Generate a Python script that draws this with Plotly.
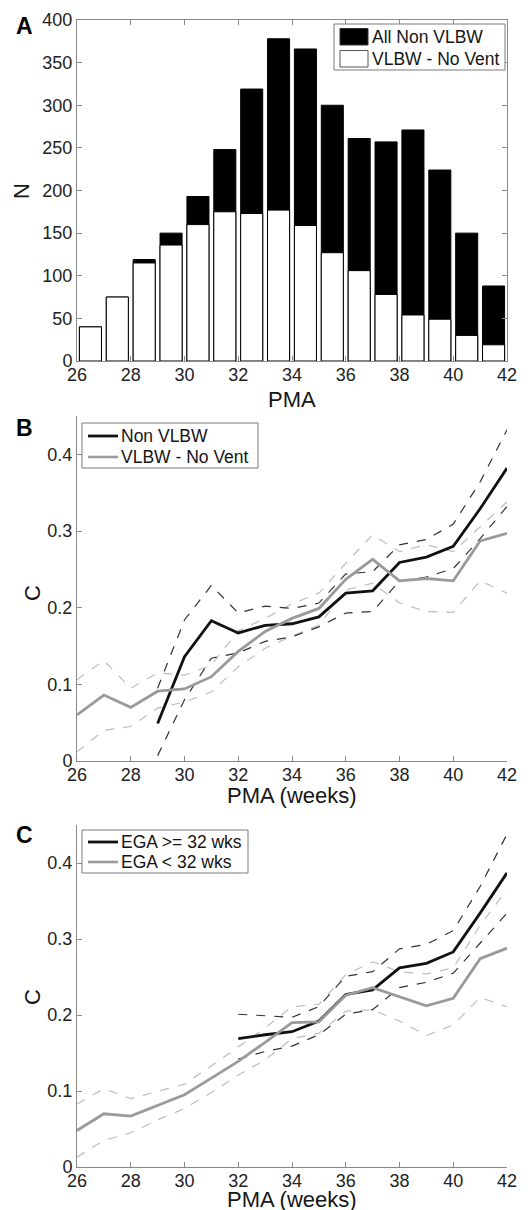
import plotly.graph_objects as go

# ---------------- data ----------------
# Panel A: counts per PMA bin
pma_bins = [26.5, 27.5, 28.5, 29.5, 30.5, 31.5, 32.5, 33.5, 34.5, 35.5, 36.5, 37.5, 38.5, 39.5, 40.5, 41.5]
n_all_non_vlbw = [40, 75, 119, 150, 193, 248, 319, 378, 366, 300, 261, 257, 271, 224, 150, 88]
n_vlbw_no_vent = [40, 75, 115, 136, 160, 175, 173, 177, 159, 127, 106, 78, 54, 49, 30, 19]

# Panel B
pma_all = [26, 27, 28, 29, 30, 31, 32, 33, 34, 35, 36, 37, 38, 39, 40, 41, 42]
pma_from29 = [29, 30, 31, 32, 33, 34, 35, 36, 37, 38, 39, 40, 41, 42]
nonvlbw_mean = [0.049, 0.136, 0.183, 0.167, 0.177, 0.179, 0.188, 0.219, 0.222, 0.259, 0.266, 0.280, 0.329, 0.382]
nonvlbw_hi = [0.095, 0.184, 0.229, 0.193, 0.202, 0.199, 0.206, 0.244, 0.247, 0.282, 0.289, 0.309, 0.364, 0.432]
nonvlbw_lo = [0.007, 0.080, 0.134, 0.141, 0.156, 0.162, 0.175, 0.193, 0.195, 0.235, 0.240, 0.251, 0.290, 0.332]
vlbw_mean = [0.060, 0.086, 0.070, 0.091, 0.094, 0.110, 0.143, 0.169, 0.186, 0.199, 0.237, 0.263, 0.235, 0.238, 0.235, 0.287, 0.297]
vlbw_hi = [0.106, 0.131, 0.095, 0.115, 0.112, 0.125, 0.170, 0.186, 0.205, 0.219, 0.258, 0.295, 0.273, 0.282, 0.273, 0.305, 0.338]
vlbw_lo = [0.012, 0.040, 0.045, 0.069, 0.077, 0.090, 0.123, 0.147, 0.163, 0.177, 0.223, 0.232, 0.206, 0.195, 0.194, 0.235, 0.219]

# Panel C
pma_from32 = [32, 33, 34, 35, 36, 37, 38, 39, 40, 41, 42]
ega_ge32_mean = [0.169, 0.174, 0.178, 0.192, 0.227, 0.233, 0.262, 0.268, 0.283, 0.334, 0.387]
ega_ge32_hi = [0.201, 0.199, 0.197, 0.211, 0.251, 0.257, 0.287, 0.293, 0.311, 0.369, 0.438]
ega_ge32_lo = [0.142, 0.152, 0.159, 0.174, 0.201, 0.207, 0.236, 0.243, 0.255, 0.295, 0.334]
ega_lt32_mean = [0.048, 0.070, 0.067, 0.081, 0.095, 0.117, 0.139, 0.164, 0.190, 0.191, 0.226, 0.236, 0.224, 0.212, 0.222, 0.274, 0.288]
ega_lt32_hi = [0.083, 0.103, 0.090, 0.099, 0.109, 0.133, 0.158, 0.183, 0.211, 0.214, 0.253, 0.270, 0.257, 0.254, 0.262, 0.318, 0.365]
ega_lt32_lo = [0.013, 0.035, 0.045, 0.062, 0.077, 0.098, 0.121, 0.141, 0.169, 0.176, 0.205, 0.207, 0.192, 0.173, 0.187, 0.223, 0.211]

x_ticks = [26, 28, 30, 32, 34, 36, 38, 40, 42]
n_ticks = [0, 50, 100, 150, 200, 250, 300, 350, 400]
c_ticks = [0, 0.1, 0.2, 0.3, 0.4]
c_tick_text = ["0", "0.1", "0.2", "0.3", "0.4"]

legend_a_labels = ["All Non VLBW", "VLBW - No Vent"]
legend_b_labels = ["Non VLBW", "VLBW - No Vent"]
legend_c_labels = ["EGA >= 32 wks", "EGA < 32 wks"]

# ---------------- styling ----------------
W, H = 531, 1210
FONT = "Liberation Sans, Arial, Helvetica, sans-serif"
AXC = "#8a8a8a"
BLACK = "#111111"
GRAY = "#9a9a9a"
DARKDASH = "#333333"
LIGHTDASH = "#bdbdbd"
TXT = "#151515"


def fx(px):
    return px / W


def fy(py):
    return 1 - py / H


fig = go.Figure()

# Panel A
fig.add_trace(go.Bar(x=pma_bins, y=n_all_non_vlbw, width=0.82, name=legend_a_labels[0],
                     marker=dict(color="black", line=dict(color="black", width=1)),
                     xaxis="x", yaxis="y", showlegend=False))
fig.add_trace(go.Bar(x=pma_bins, y=n_vlbw_no_vent, width=0.82, name=legend_a_labels[1],
                     marker=dict(color="white", line=dict(color="black", width=1)),
                     xaxis="x", yaxis="y", showlegend=False))


def line(x, y, color, width, dash, name=None, ax="2"):
    return go.Scatter(x=x, y=y, mode="lines", name=name, showlegend=False,
                      line=dict(color=color, width=width, dash=dash),
                      xaxis="x" + ax, yaxis="y" + ax)


# Panel B
fig.add_trace(line(pma_all, vlbw_hi, LIGHTDASH, 1.2, "dash"))
fig.add_trace(line(pma_all, vlbw_lo, LIGHTDASH, 1.2, "dash"))
fig.add_trace(line(pma_from29, nonvlbw_hi, DARKDASH, 1.2, "dash"))
fig.add_trace(line(pma_from29, nonvlbw_lo, DARKDASH, 1.2, "dash"))
fig.add_trace(line(pma_from29, nonvlbw_mean, BLACK, 2.8, "solid", legend_b_labels[0]))
fig.add_trace(line(pma_all, vlbw_mean, GRAY, 2.8, "solid", legend_b_labels[1]))

# Panel C
fig.add_trace(line(pma_all, ega_lt32_hi, LIGHTDASH, 1.2, "dash", ax="3"))
fig.add_trace(line(pma_all, ega_lt32_lo, LIGHTDASH, 1.2, "dash", ax="3"))
fig.add_trace(line(pma_from32, ega_ge32_hi, DARKDASH, 1.2, "dash", ax="3"))
fig.add_trace(line(pma_from32, ega_ge32_lo, DARKDASH, 1.2, "dash", ax="3"))
fig.add_trace(line(pma_from32, ega_ge32_mean, BLACK, 2.8, "solid", legend_c_labels[0], ax="3"))
fig.add_trace(line(pma_all, ega_lt32_mean, GRAY, 2.8, "solid", legend_c_labels[1], ax="3"))

tickfont = dict(family=FONT, size=18, color="#222222")
titlefont = dict(family=FONT, size=22, color=TXT)
xdom = [fx(77), fx(507)]


def xaxis(anchor, mirror):
    return dict(domain=xdom, anchor=anchor, range=[26, 42], tickvals=x_ticks,
                showgrid=False, zeroline=False, showline=True, linecolor=AXC, linewidth=1,
                mirror=mirror, ticks="inside", ticklen=5, tickcolor=AXC, tickfont=tickfont,
                ticklabelstandoff=-3, automargin=False)


def yaxis(anchor, dom, rng, tv, tt, mirror):
    return dict(domain=dom, anchor=anchor, range=rng, tickvals=tv, ticktext=tt,
                showgrid=False, zeroline=False, showline=True, linecolor=AXC, linewidth=1,
                mirror=mirror, ticks="inside", ticklen=5, tickcolor=AXC, tickfont=tickfont,
                automargin=False)


annotations = []
shapes = []


def text(t, x, y, size, xanchor="center", angle=0, bold=False):
    annotations.append(dict(
        text=f"<b>{t}</b>" if bold else t, x=fx(x), y=fy(y), xref="paper", yref="paper",
        xanchor=xanchor, yanchor="middle", showarrow=False, textangle=angle,
        font=dict(family=FONT, size=size, color=TXT if not bold else "black"),
        borderpad=0))


def rect(x0, y0, x1, y1, fill, line_color, lw=1):
    shapes.append(dict(type="rect", xref="paper", yref="paper",
                       x0=fx(x0), x1=fx(x1), y0=fy(y1), y1=fy(y0),
                       fillcolor=fill, line=dict(color=line_color, width=lw), layer="above"))


def seg(x0, x1, y, color, lw):
    shapes.append(dict(type="line", xref="paper", yref="paper",
                       x0=fx(x0), x1=fx(x1), y0=fy(y), y1=fy(y),
                       line=dict(color=color, width=lw), layer="above"))


# panel letters
text("A", 24, 26, 23, bold=True)
text("B", 24, 428, 23, bold=True)
text("C", 24, 835, 23, bold=True)

# axis titles
text("PMA", 292, 399, 22)
text("N", 21, 191, 22, angle=-90)
text("PMA (weeks)", 292, 795, 22)
text("C", 32, 593, 22, angle=-90)
text("PMA (weeks)", 292, 1199, 22)
text("C", 32, 997, 22, angle=-90)

# legend A
rect(334, 24, 505, 70, "white", "#7a7a7a")
rect(340, 28.5, 368, 45, "black", "#333333")
rect(340, 50.5, 368, 67, "white", "#555555")
text(legend_a_labels[0], 371, 37, 17.5, xanchor="left")
text(legend_a_labels[1], 371, 59, 17.5, xanchor="left")

# legend B
rect(82, 423, 258, 468, "white", "#7a7a7a")
seg(88, 118, 436, BLACK, 2.8)
seg(88, 118, 457, GRAY, 2.6)
text(legend_b_labels[0], 120, 436, 17.5, xanchor="left")
text(legend_b_labels[1], 120, 457, 17.5, xanchor="left")

# legend C
rect(82, 830, 248, 873, "white", "#7a7a7a")
seg(88, 118, 842, BLACK, 2.8)
seg(88, 118, 862, GRAY, 2.6)
text(legend_c_labels[0], 120, 842, 17.5, xanchor="left")
text(legend_c_labels[1], 120, 862, 17.5, xanchor="left")

fig.update_layout(
    width=W, height=H,
    margin=dict(l=0, r=0, t=0, b=0),
    paper_bgcolor="white", plot_bgcolor="white",
    font=dict(family=FONT, color=TXT),
    barmode="overlay",
    showlegend=False,
    xaxis=xaxis("y", "ticks"),
    yaxis=yaxis("x", [fy(361), fy(20)], [0, 400], n_ticks, [str(v) for v in n_ticks], "ticks"),
    xaxis2=xaxis("y2", False),
    yaxis2=yaxis("x2", [fy(761), fy(416)], [0, 0.45], c_ticks, c_tick_text, False),
    xaxis3=xaxis("y3", False),
    yaxis3=yaxis("x3", [fy(1167), fy(825)], [0, 0.45], c_ticks, c_tick_text, False),
    annotations=annotations,
    shapes=shapes,
)

fig.write_html(
    "out.html",
    config={"displayModeBar": False},
    post_script="document.body.style.margin='0';document.body.style.overflow='hidden';"
                "document.documentElement.style.overflow='hidden';",
)
